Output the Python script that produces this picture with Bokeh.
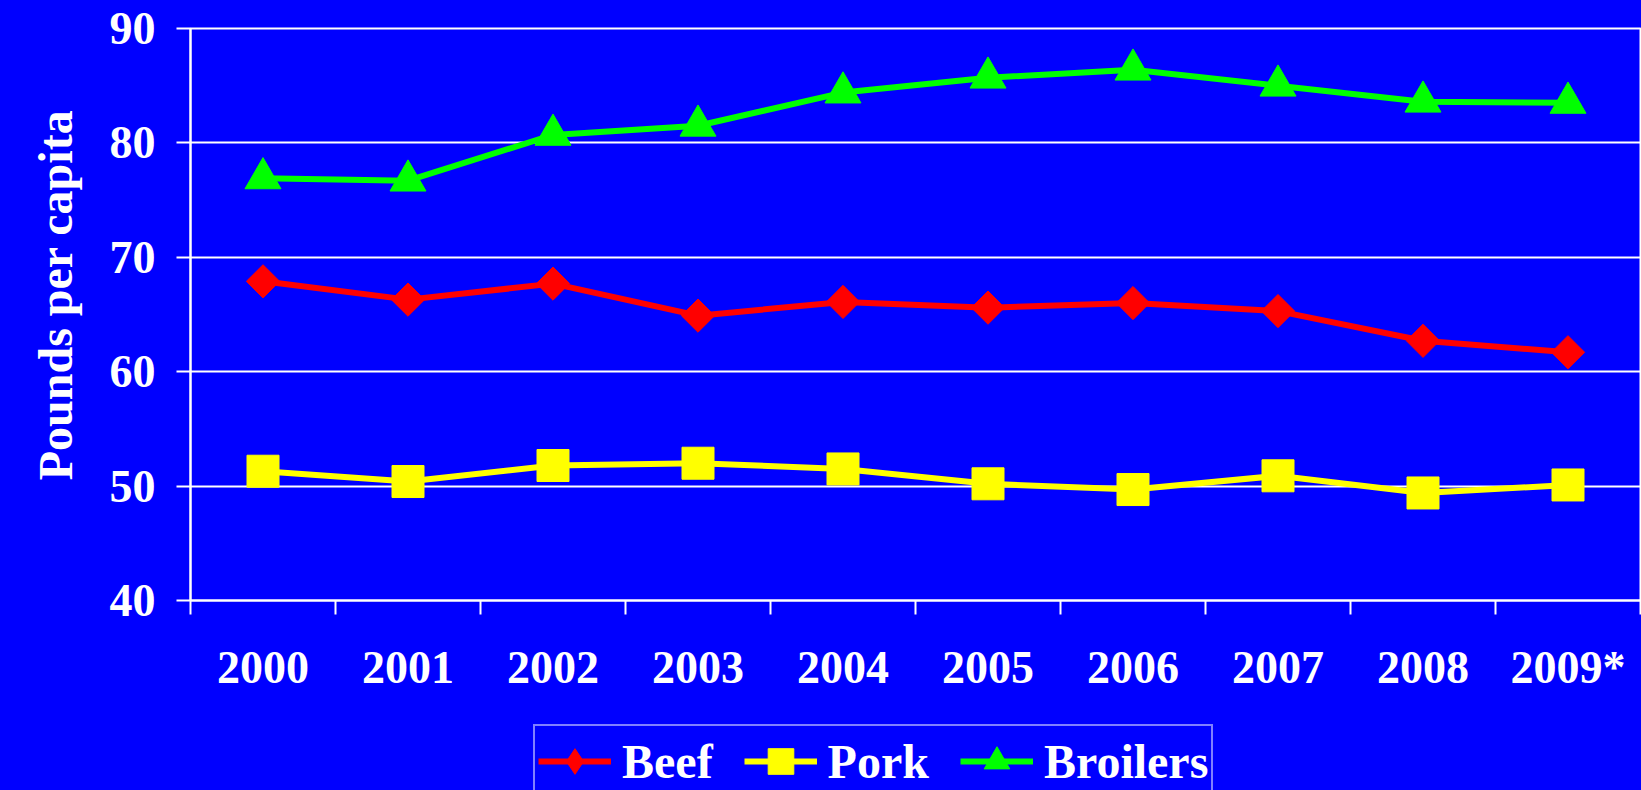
from bokeh.plotting import figure
from bokeh.models import FixedTicker, Range1d, Legend, LegendItem, Title
from bokeh.layouts import column
from bokeh.embed import file_html
from bokeh.resources import INLINE
import math

# ---- data ----
years = ["2000", "2001", "2002", "2003", "2004", "2005", "2006", "2007", "2008", "2009*"]
beef = [67.9, 66.3, 67.7, 64.9, 66.1, 65.6, 66.0, 65.3, 62.7, 61.7]
pork = [51.3, 50.4, 51.8, 52.0, 51.5, 50.2, 49.7, 50.9, 49.4, 50.1]
broilers = [76.9, 76.7, 80.7, 81.5, 84.4, 85.7, 86.4, 85.0, 83.6, 83.5]
y_ticks = [40, 50, 60, 70, 80, 90]
series_names = ["Beef", "Pork", "Broilers"]
y_title = "Pounds per capita"

BLUE = "#0000FF"
FONT = "Liberation Serif"
W = 1641

n = len(years)
xs = [i + 0.5 for i in range(n)]

p = figure(width=W, height=700, output_backend="svg", toolbar_location=None,
           x_range=Range1d(0, n), y_range=Range1d(y_ticks[0], y_ticks[-1]),
           min_border_left=190, min_border_right=1, min_border_top=28, min_border_bottom=100,
           background_fill_color=BLUE, border_fill_color=BLUE,
           outline_line_color="white", outline_line_width=2,
           styles={"background-color": BLUE})

# grid
p.xgrid.visible = False
p.ygrid.grid_line_color = "white"
p.ygrid.grid_line_width = 2

# x axis: labels at category centres, tick marks at category boundaries
xa = p.xaxis[0]
xa.ticker = FixedTicker(ticks=xs, minor_ticks=list(range(n + 1)))
xa.major_label_overrides = {x: lab for x, lab in zip(xs, years)}
xa.major_tick_line_color = None
xa.major_tick_out = 14
xa.major_tick_in = 0
xa.minor_tick_line_color = "white"
xa.minor_tick_line_width = 2
xa.minor_tick_out = 14
xa.minor_tick_in = 0
xa.axis_line_color = "white"
xa.axis_line_width = 2
xa.major_label_standoff = 27
xa.major_label_text_font = FONT
xa.major_label_text_font_style = "bold"
xa.major_label_text_font_size = "46px"
xa.major_label_text_color = "white"

# y axis
ya = p.yaxis[0]
ya.ticker = FixedTicker(ticks=y_ticks)
ya.major_tick_line_color = "white"
ya.major_tick_line_width = 2
ya.major_tick_out = 14
ya.major_tick_in = 0
ya.minor_tick_line_color = None
ya.axis_line_color = "white"
ya.axis_line_width = 2
ya.major_label_standoff = 21
ya.major_label_text_font = FONT
ya.major_label_text_font_style = "bold"
ya.major_label_text_font_size = "46px"
ya.major_label_text_color = "white"

# y title (placed as a left-side title so it can sit a little above the frame centre)
t = Title(text=y_title, align="right", offset=81,
          text_font=FONT, text_font_style="bold", text_font_size="48px", text_color="white")
if "standoff" in Title.properties():
    t.standoff = 50
p.add_layout(t, "left")

# series
specs = [
    (beef, "#FF0000", "square", 23.5, math.pi / 4, "diamond", series_names[0]),
    (pork, "#FFFF00", "square", 32, 0, "square", series_names[1]),
    (broilers, "#00FF00", "triangle", 36, 0, "triangle", series_names[2]),
]
for vals, color, marker, size, angle, _lm, name in specs:
    p.line(xs, vals, line_color=color, line_width=6)
    p.scatter(xs, vals, marker=marker, size=size, angle=angle,
              fill_color=color, line_color=color)

# ---- legend strip (separate figure below, its copies of the data kept out of view) ----
q = figure(width=W, height=90, output_backend="svg", toolbar_location=None,
           x_range=Range1d(1000, 1001), y_range=Range1d(1000, 1001),
           x_axis_location=None, y_axis_location=None,
           min_border_left=190, min_border_right=1, min_border_top=0, min_border_bottom=0,
           background_fill_color=BLUE, border_fill_color=BLUE, outline_line_color=None,
           styles={"background-color": BLUE})
q.xgrid.visible = False
q.ygrid.visible = False

items = []
for vals, color, _m, size, _a, legend_marker, name in specs:
    r1 = q.line(xs, vals, line_color=color, line_width=6)
    r2 = q.scatter(xs, vals, marker=legend_marker, size=size,
                   fill_color=color, line_color=color)
    items.append(LegendItem(label=name, renderers=[r1, r2]))

lg = Legend(items=items, orientation="horizontal", location=(343, -8))
lg.label_text_font = FONT
lg.label_text_font_style = "bold"
lg.label_text_font_size = "48px"
lg.label_text_color = "white"
lg.background_fill_color = BLUE
lg.background_fill_alpha = 1
lg.border_line_color = "white"
lg.border_line_width = 2
lg.glyph_width = 73
lg.glyph_height = 64
lg.padding = 3
lg.spacing = 31
lg.label_standoff = 11
lg.margin = 0
q.add_layout(lg, "center")

layout = column(p, q, spacing=0, styles={"background-color": BLUE})
open("out.html", "w").write(file_html(layout, INLINE))
